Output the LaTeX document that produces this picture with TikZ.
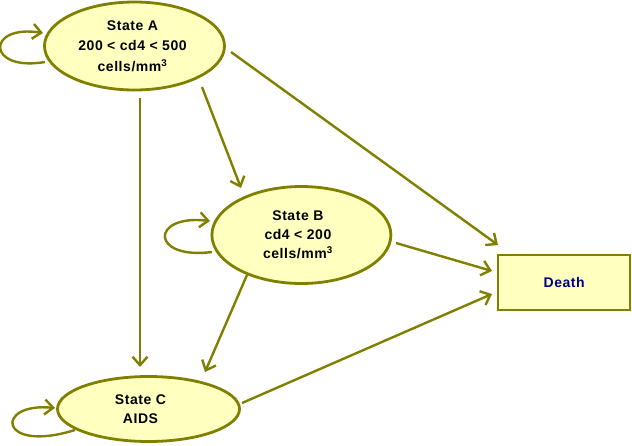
\documentclass[tikz,border=0pt]{standalone}
\usepackage{fontspec}
\setmainfont{Liberation Sans}
\usetikzlibrary{arrows.meta,calc,shapes.geometric}
\definecolor{olivec}{RGB}{128,128,0}
\definecolor{fillc}{RGB}{255,255,192}
\definecolor{navyc}{RGB}{0,0,128}
\begin{document}
\begin{tikzpicture}[x=1pt,y=-1pt,
  state/.style={ellipse, draw=olivec, line width=2.8pt, fill=fillc, inner sep=0pt, outer sep=0pt,
    align=center, font=\fontsize{14}{19}\selectfont\bfseries\addfontfeatures{LetterSpace=4}},
  sink/.style={rectangle, draw=olivec, line width=2pt, fill=fillc, inner sep=0pt, outer sep=0pt,
    text=navyc, font=\fontsize{14}{18}\selectfont\bfseries\addfontfeatures{LetterSpace=4}},
  arr/.style={draw=olivec, line width=2.4pt, -{Straight Barb[length=8.5pt,width=15pt]}}]
\useasboundingbox (0,0) rectangle (632,445);

\node[state, minimum width=180pt, minimum height=88pt,
  font=\fontsize{14}{20.5}\selectfont\bfseries\addfontfeatures{LetterSpace=4}] (A) at (134.5,46)
  {State A\kern4pt\\200 < cd4 < 500\kern4pt\\cells/mm\textsuperscript{3}\kern4pt};
\node[state, minimum width=179pt, minimum height=97pt] (B) at (301.4,235)
  {State B\kern7pt\\cd4 < 200\kern7pt\\cells/mm\textsuperscript{3}\kern7pt};
\node[state, minimum width=182pt, minimum height=65pt] (C) at (148.5,409)
  {State C\kern16pt\\AIDS\kern16pt};
\node[sink, minimum width=131.5pt, minimum height=55pt] (D) at (564.2,282.5) {Death};

% transitions
\draw[arr] ($(A)+(67.5,41)$) -- ($(B)+(-60.4,-47)$);
\draw[arr] ($(A)+(5.5,52)$) -- ($(C)+(-8.5,-42)$);
\draw[arr] ($(A)+(96.5,6)$) -- ($(D)+(-66.2,-37.5)$);
\draw[arr] ($(B)+(94.6,8)$) -- ($(D)+(-72.2,-11.5)$);
\draw[arr] ($(B)+(-54.4,40)$) -- ($(C)+(56.5,-37)$);
\draw[arr] ($(C)+(93.5,-6)$) -- ($(D)+(-72.2,11.5)$);

% self loops
\draw[arr] ($(A)+(-89.5,16)$) .. controls ($(A)+(-148.5,26)$) and ($(A)+(-148.5,-22)$) .. ($(A)+(-91.5,-13)$);
\draw[arr] ($(B)+(-89.4,17)$) .. controls ($(B)+(-151.4,25)$) and ($(B)+(-151.4,-21)$) .. ($(B)+(-91.4,-14)$);
\draw[arr] ($(C)+(-73.5,21)$) .. controls ($(C)+(-150.5,45)$) and ($(C)+(-154.5,-7)$) .. ($(C)+(-93.5,-1)$);
\end{tikzpicture}
\end{document}
